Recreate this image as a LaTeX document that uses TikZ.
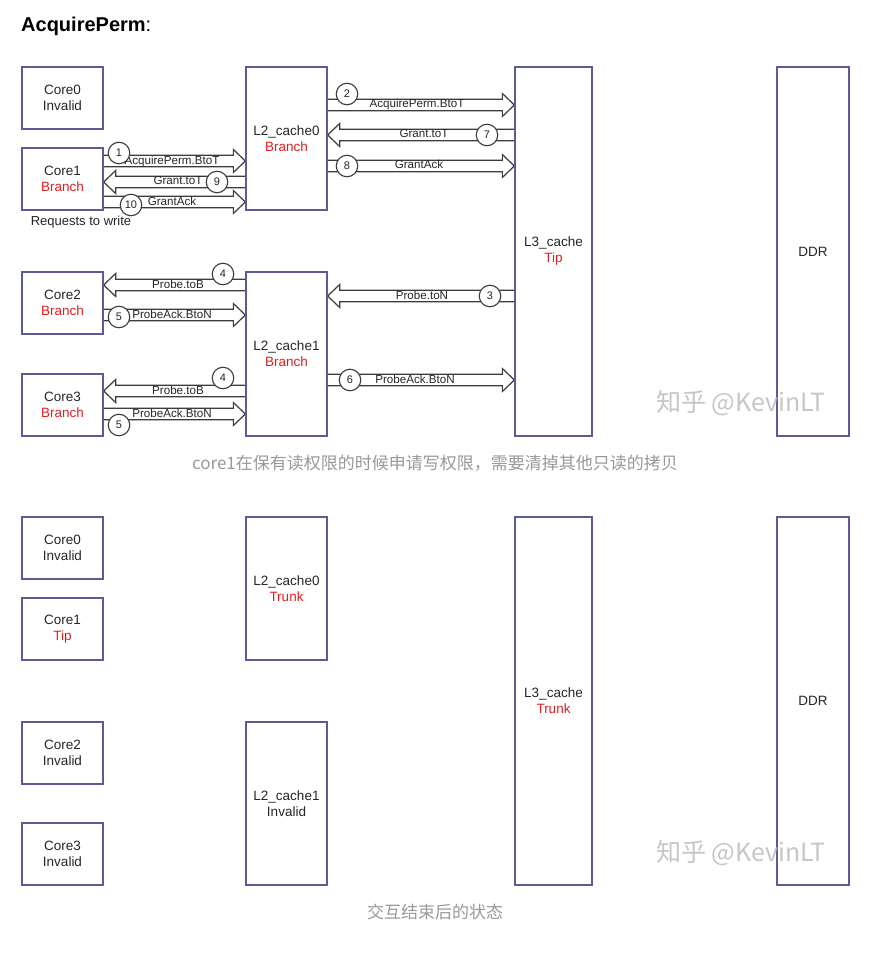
\documentclass[tikz,border=0pt]{standalone}
\usepackage{fontspec}
\setmainfont{Liberation Sans}
\newfontfamily\cjk{Noto Sans CJK SC}
\usetikzlibrary{calc}
\pgfdeclarelayer{bg}
\pgfsetlayers{bg,main}
\definecolor{boxc}{HTML}{5C5C94}
\definecolor{redc}{HTML}{E02020}
\definecolor{txt}{HTML}{262626}
\definecolor{arrc}{HTML}{3C3C3C}
\definecolor{capc}{HTML}{999999}
\definecolor{wmc}{HTML}{BDBDBD}
\newcommand\rd[1]{\textcolor{redc}{#1}}
\tikzset{
  blk/.style={draw=boxc, line width=1.3pt, inner sep=0pt, align=center,
    font=\fontsize{13.5}{16}\selectfont, text=txt},
  corebox/.style={blk, minimum width=81pt, minimum height=62pt},
  lbl/.style={font=\fontsize{11.6}{12}\selectfont, text=txt, inner sep=0pt},
  num/.style={circle, draw=arrc, line width=1.1pt, fill=white, minimum size=21.5pt,
    inner sep=0pt, font=\fontsize{11}{11}\selectfont, text=txt},
  barrow/.style={draw=arrc, line width=1.2pt, fill=white},
  capt/.style={font=\cjk\fontsize{17}{17}\selectfont, text=capc, inner sep=0pt},
  wmark/.style={font=\cjk\fontsize{25}{25}\selectfont, text=wmc, inner sep=0pt, anchor=west, opacity=0.85},
}
% rightward hollow arrow from #1.east to #2.west at height #3
\newcommand\rarr[3]{%
  \draw[barrow] let \p1=(#1.east|-0,#3), \p2=(#2.west|-0,#3) in
  (\x1,{\y1+5.8pt}) -- ({\x2-12pt},{\y1+5.8pt}) -- ({\x2-12pt},{\y1+11.5pt}) -- (\x2,\y1)
  -- ({\x2-12pt},{\y1-11.5pt}) -- ({\x2-12pt},{\y1-5.8pt}) -- (\x1,{\y1-5.8pt});}
% leftward hollow arrow from #1.west to #2.east at height #3
\newcommand\larr[3]{%
  \draw[barrow] let \p1=(#1.west|-0,#3), \p2=(#2.east|-0,#3) in
  (\x1,{\y1+5.8pt}) -- ({\x2+12pt},{\y1+5.8pt}) -- ({\x2+12pt},{\y1+11.5pt}) -- (\x2,\y1)
  -- ({\x2+12pt},{\y1-11.5pt}) -- ({\x2+12pt},{\y1-5.8pt}) -- (\x1,{\y1-5.8pt});}
\begin{document}
\begin{tikzpicture}[x=1pt,y=-1pt]
\begin{pgfonlayer}{bg}
\fill[white] (0,0) rectangle (881,958);
\end{pgfonlayer}
\useasboundingbox (0,0) rectangle (881,958);

\node[anchor=west, inner sep=0pt, text=black, font=\bfseries\fontsize{20}{20}\selectfont] (title) at (21,26) {AcquirePerm\textmd{:}};

% ---------- top diagram ----------
\node[corebox] (c0) at (62.5,98) {Core0\\Invalid};
\node[corebox] (c1) at (62.5,179) {Core1\\\rd{Branch}};
\node[corebox] (c2) at (62.5,303) {Core2\\\rd{Branch}};
\node[corebox] (c3) at (62.5,405) {Core3\\\rd{Branch}};
\node[blk, minimum width=81pt, minimum height=143pt] (la) at (286.5,138.5) {L2\_cache0\\\rd{Branch}};
\node[blk, minimum width=81pt, minimum height=164pt] (lb) at (286.5,354) {L2\_cache1\\\rd{Branch}};
\node[blk, minimum width=77pt, minimum height=369pt] (l3) at (553.5,251.5) {L3\_cache\\\rd{Tip}};
\node[blk, minimum width=72pt, minimum height=369pt] (ddr) at (813,251.5) {DDR};
\node[font=\fontsize{13}{14}\selectfont, text=txt, inner sep=0pt] (req) at (81,222) {Requests to write};

\begin{pgfonlayer}{bg}
\rarr{c1}{la}{161}
\larr{la}{c1}{182}
\rarr{c1}{la}{202}
\rarr{la}{l3}{105}
\larr{l3}{la}{135}
\rarr{la}{l3}{166}
\larr{lb}{c2}{285}
\rarr{c2}{lb}{315}
\larr{lb}{c3}{391}
\rarr{c3}{lb}{414}
\larr{l3}{lb}{296}
\rarr{lb}{l3}{380}
\end{pgfonlayer}

\node[lbl] (t1) at (172,161) {AcquirePerm.BtoT};
\node[lbl] (t9) at (178,181) {Grant.toT};
\node[lbl] (t10) at (172,201) {GrantAck};
\node[lbl] (t2) at (417,104.5) {AcquirePerm.BtoT};
\node[lbl] (t7) at (424,134) {Grant.toT};
\node[lbl] (t8) at (419,164.5) {GrantAck};
\node[lbl] (t4a) at (178,284) {Probe.toB};
\node[lbl] (t5a) at (172,314) {ProbeAck.BtoN};
\node[lbl] (t4b) at (178,390) {Probe.toB};
\node[lbl] (t5b) at (172,413.5) {ProbeAck.BtoN};
\node[lbl] (t3) at (422,295.5) {Probe.toN};
\node[lbl] (t6) at (415,379.5) {ProbeAck.BtoN};

\node[num] (n1) at (119,153) {1};
\node[num] (n9) at (217,182) {9};
\node[num] (n10) at (131,205) {10};
\node[num] (n2) at (347,94) {2};
\node[num] (n7) at (487,135) {7};
\node[num] (n8) at (347,166) {8};
\node[num] (n4a) at (223,274) {4};
\node[num] (n5a) at (119,317) {5};
\node[num] (n4b) at (223,378) {4};
\node[num] (n5b) at (119,425) {5};
\node[num] (n3) at (490,296) {3};
\node[num] (n6) at (350,380) {6};

\node[wmark] (wm1) at (656,403) {知乎 @KevinLT};
\node[capt] (cap1) at (435,463) {core1在保有读权限的时候申请写权限，需要清掉其他只读的拷贝};

% ---------- bottom diagram ----------
\node[corebox] (d0) at (62.5,548) {Core0\\Invalid};
\node[corebox] (d1) at (62.5,629) {Core1\\\rd{Tip}};
\node[corebox] (d2) at (62.5,753) {Core2\\Invalid};
\node[corebox] (d3) at (62.5,854) {Core3\\Invalid};
\node[blk, minimum width=81pt, minimum height=143pt] (ma) at (286.5,588.5) {L2\_cache0\\\rd{Trunk}};
\node[blk, minimum width=81pt, minimum height=163pt] (mb) at (286.5,803.5) {L2\_cache1\\Invalid};
\node[blk, minimum width=77pt, minimum height=368pt] (m3) at (553.5,701) {L3\_cache\\\rd{Trunk}};
\node[blk, minimum width=72pt, minimum height=368pt] (mddr) at (813,701) {DDR};

\node[wmark] (wm2) at (656,853) {知乎 @KevinLT};
\node[capt] (cap2) at (435,912) {交互结束后的状态};
\end{tikzpicture}
\end{document}
